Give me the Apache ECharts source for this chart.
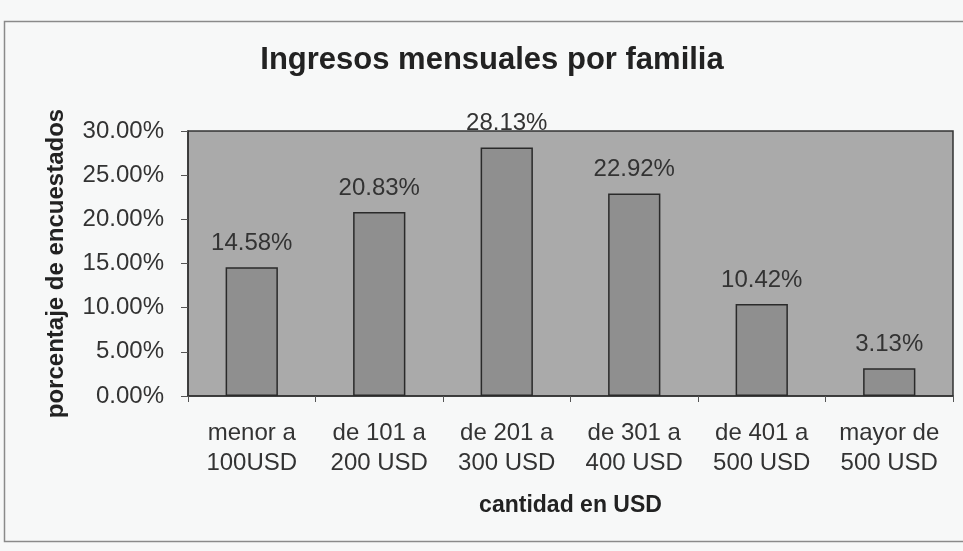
<!DOCTYPE html>
<html>
<head>
<meta charset="utf-8">
<title>Ingresos mensuales por familia</title>
<script src="https://cdn.jsdelivr.net/npm/echarts@6/dist/echarts.min.js"></script>
<style>
	html, body { margin: 0; padding: 0; background: #f7f8f8; }
	#main { width: 963px; height: 551px; }
</style>
</head>
<body>
<div id="main"></div>
<script>
// categorías (rangos de ingreso)
var categories = ['menor a\n100USD', 'de 101 a\n200 USD', 'de 201 a\n300 USD', 'de 301 a\n400 USD', 'de 401 a\n500 USD', 'mayor de\n500 USD'];
// porcentaje de encuestados
var porcentajes = [14.58, 20.83, 28.13, 22.92, 10.42, 3.13];
var yTicks = [0, 5, 10, 15, 20, 25, 30];

var font = '"Liberation Sans", Arial, sans-serif';
var chart = echarts.init(document.getElementById('main'), null, { renderer: 'canvas' });
var option = {
	backgroundColor: '#f7f8f8',
	animation: false,
	title: {
		text: 'Ingresos mensuales por familia',
		left: 487,
		top: 40,
		textAlign: 'center',
		textStyle: { fontFamily: font, fontSize: 31, fontWeight: 'bold', color: '#222' }
	},
	graphic: [{
		type: 'rect',
		shape: { x: 4.5, y: 21.5, width: 980, height: 520 },
		style: { fill: 'none', stroke: '#8a8a8a', lineWidth: 1.5 },
		silent: true
	}],
	grid: {
		left: 188,
		right: 10,
		top: 131,
		bottom: 155,
		show: true,
		backgroundColor: '#aaaaaa',
		borderColor: '#333',
		borderWidth: 1.5
	},
	xAxis: {
		type: 'category',
		data: categories,
		name: 'cantidad en USD',
		nameLocation: 'middle',
		nameGap: 98,
		nameTextStyle: { fontFamily: font, fontSize: 23, fontWeight: 'bold', color: '#222' },
		axisLine: { lineStyle: { color: '#333', width: 1.5 } },
		axisTick: { show: true, length: 6, lineStyle: { color: '#555' } },
		axisLabel: {
			interval: 0,
			hideOverlap: false,
			fontFamily: font,
			fontSize: 24,
			color: '#333',
			margin: 22,
			lineHeight: 30
		}
	},
	yAxis: {
		type: 'value',
		min: yTicks[0],
		max: yTicks[yTicks.length - 1],
		interval: 5,
		name: 'porcentaje de encuestados',
		nameLocation: 'middle',
		nameGap: 120,
		nameTextStyle: { fontFamily: font, fontSize: 24, fontWeight: 'bold', color: '#222' },
		axisLine: { show: true, lineStyle: { color: '#333', width: 1.5 } },
		axisTick: { show: true, length: 7, lineStyle: { color: '#555' } },
		splitLine: { show: false },
		axisLabel: {
			fontFamily: font,
			fontSize: 24,
			color: '#333',
			margin: 24,
			formatter: function (v) { return v.toFixed(2) + '%'; }
		}
	},
	series: [{
		type: 'bar',
		data: porcentajes,
		barWidth: '41%',
		itemStyle: { color: '#8f8f8f', borderColor: '#2a2a2a', borderWidth: 1.5 },
		label: {
			show: true,
			position: 'top',
			distance: 12,
			fontFamily: font,
			fontSize: 24,
			color: '#333',
			formatter: function (p) { return p.value.toFixed(2) + '%'; }
		}
	}]
};
chart.setOption(option);
</script>
</body>
</html>
